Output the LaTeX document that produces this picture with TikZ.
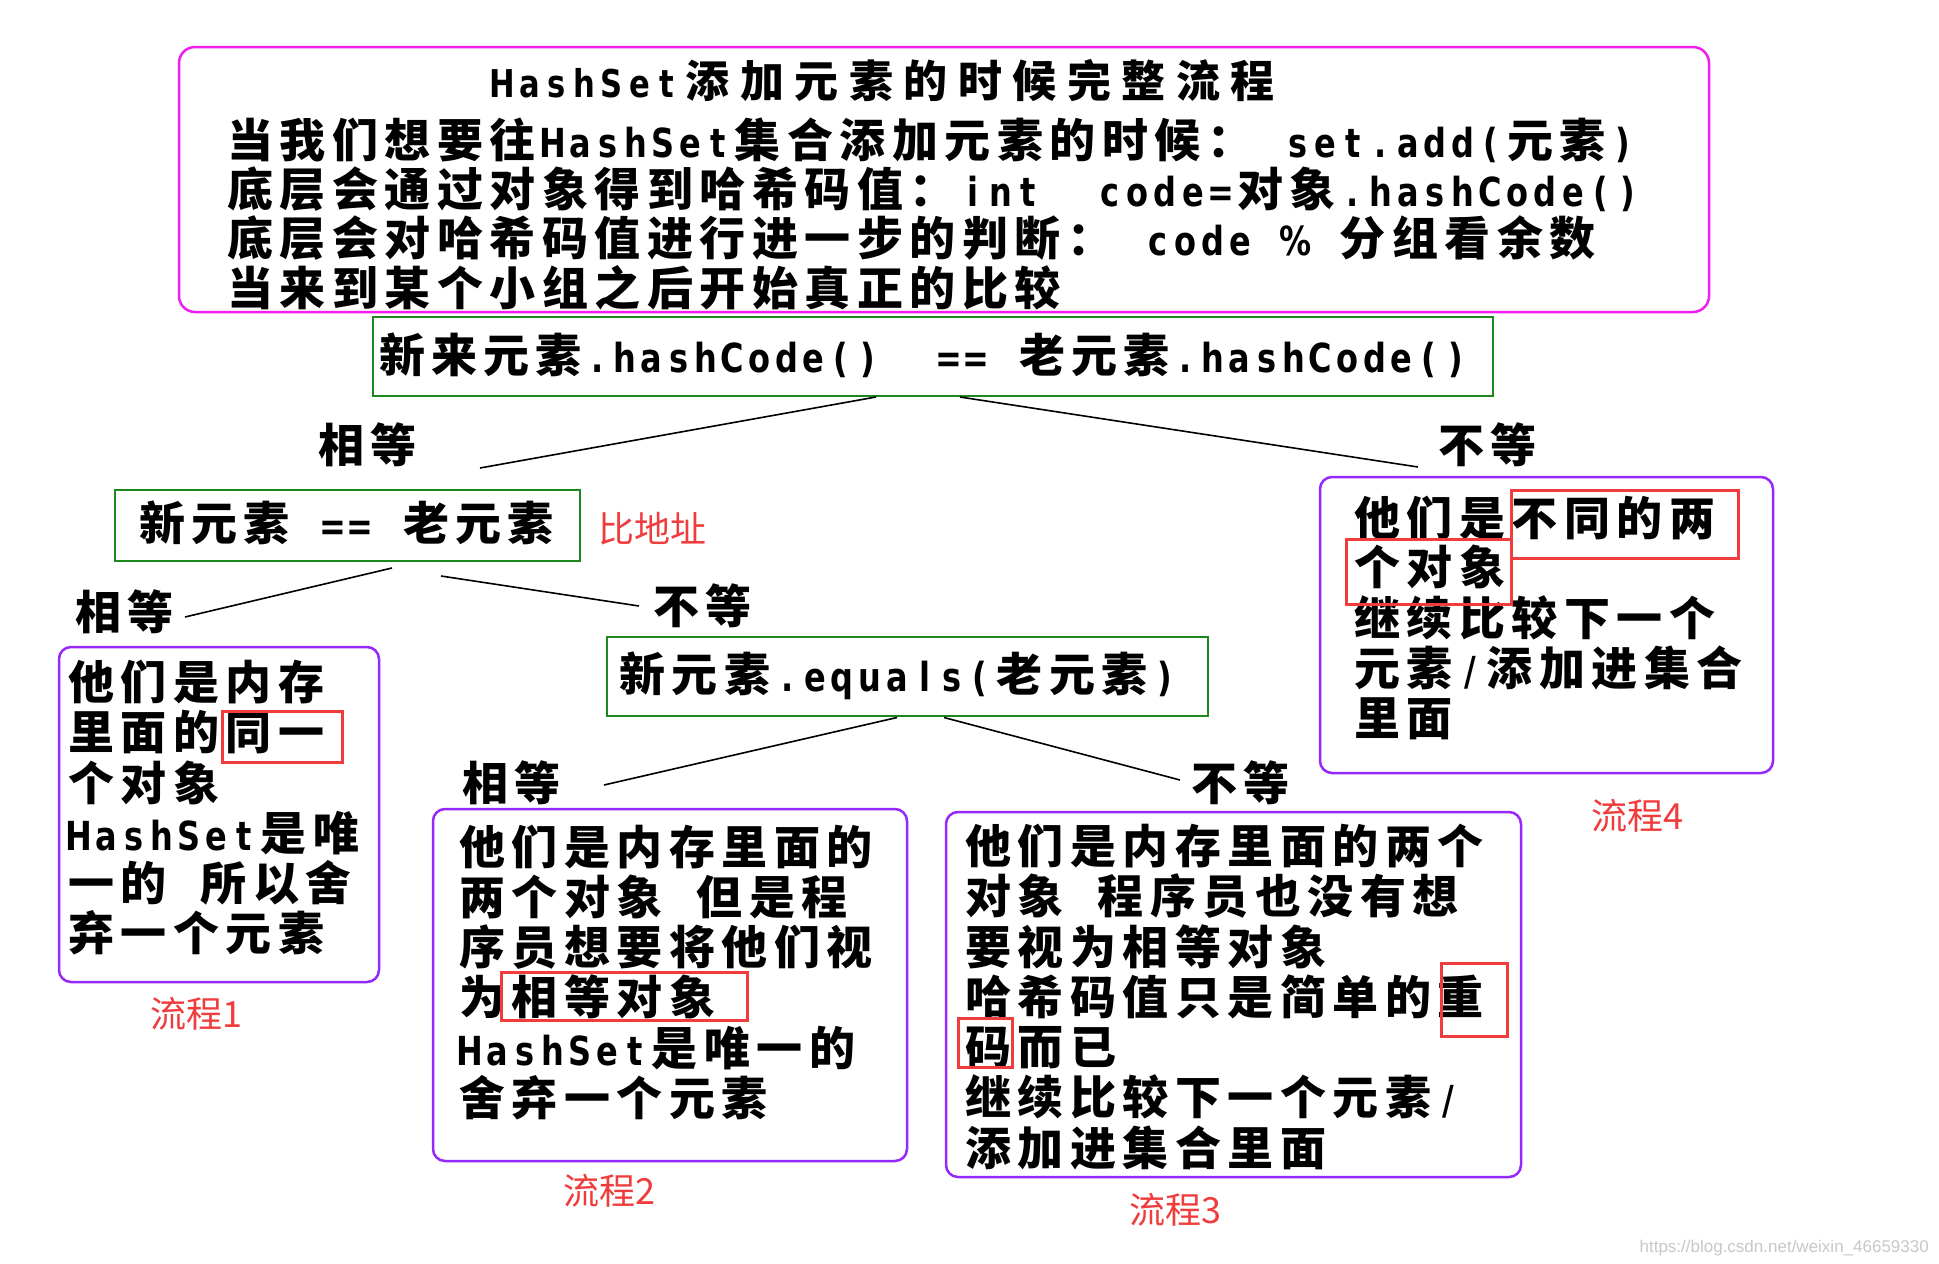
\documentclass[tikz,border=0pt]{standalone}
\usepackage{fontspec}
\usepackage{graphicx}
\usetikzlibrary{calc}
\newfontfamily\cjk{Noto Sans CJK SC}
\newfontfamily\latsans{Liberation Sans}
\newfontfamily\latbold{DejaVu Sans}[Scale=0.87]
\newlength\cjkw \setlength\cjkw{52.5pt}
\newlength\latw \setlength\latw{27.5pt}
\def\cjkstyle{\cjk\bfseries}
\def\latstyle{\latbold\bfseries}
\def\cellsEnd{\relax}
\newcommand\cells[1]{\cellsA#1\cellsEnd}
\def\cellsA#1{\ifx#1\cellsEnd\else\cellsB{#1}\expandafter\cellsA\fi}
\def\cellsB#1{\ifnum`#1>255 \makebox[\cjkw][c]{\cjkstyle #1}\else\makebox[\latw][c]{\scalebox{0.8}[1]{\latstyle #1}}\fi}
\definecolor{mcol}{RGB}{240,30,240}
\definecolor{gcol}{RGB}{30,135,30}
\definecolor{pcol}{RGB}{150,40,250}
\definecolor{rcol}{RGB}{240,60,60}
\definecolor{wcol}{RGB}{200,200,200}
\begin{document}
\begin{tikzpicture}[x=1pt,y=-1pt,
  txt/.style={anchor=base west,inner sep=0pt,font=\cjk\bfseries\fontsize{46pt}{50pt}\selectfont},
  redlbl/.style={anchor=base west,inner sep=0pt,text=rcol,font=\cjk\fontsize{36pt}{40pt}\selectfont},
  gbox/.style={draw=gcol,line width=2pt,inner sep=0pt},
  pbox/.style={draw=pcol,line width=2.5pt,rounded corners=12pt,inner sep=0pt},
  mbox/.style={draw=mcol,line width=2.5pt,rounded corners=16pt,inner sep=0pt},
  rbox/.style={draw=rcol,line width=3pt,inner sep=0pt},
  conn/.style={draw=black,line width=1.6pt}]
\fill[white] (0,0) rectangle (1939,1264);
\useasboundingbox (0,0) rectangle (1939,1264);

% top box
\node[mbox,minimum width=1530pt,minimum height=265pt] (tb) at (944,179.5) {};
\node[txt,font=\cjk\bfseries\fontsize{44pt}{48pt}\selectfont] (title) at (488,97) {\setlength\cjkw{54.5pt}\cells{HashSet添加元素的时候完整流程}};
\node[txt] (l1) at (224,157) {\cells{当我们想要往HashSet集合添加元素的时候：~set.add(元素)}};
\node[txt] (l2) at (224,206) {\cells{底层会通过对象得到哈希码值：int~~code=对象.hashCode()}};
\node[txt] (l3) at (224,255) {\cells{底层会对哈希码值进行进一步的判断：~code~\%~分组看余数}};
\node[txt] (l4) at (224,305) {\cells{当来到某个小组之后开始真正的比较}};

% hashCode box
\node[gbox,minimum width=1120pt,minimum height=79pt] (hc) at (933,356.5) {};
\node[txt] (hct) at (376,372) {\setlength\cjkw{52pt}\setlength\latw{27pt}\cells{新来元素.hashCode()~~==~老元素.hashCode()}};

\node[txt] (lab1) at (315,462) {\cells{相等}};
\node[txt] (lab2) at (1435,462) {\cells{不等}};
\coordinate (cA) at (480,468);
\coordinate (cB) at (1418,467);
\draw[conn] ($(hc.south)+(-57,0)$) -- (cA);
\draw[conn] ($(hc.south)+(27,0)$) -- (cB);

% == box
\node[gbox,minimum width=465pt,minimum height=71pt] (eq1) at (347.5,525.5) {};
\node[txt] (eq1t) at (136,540) {\setlength\cjkw{52pt}\setlength\latw{27pt}\cells{新元素~==~老元素}};
\node[redlbl] (addr) at (598,542) {比地址};
\node[txt] (lab3) at (72,629) {\cells{相等}};
\node[txt] (lab4) at (650,623) {\cells{不等}};
\coordinate (cC) at (185,617);
\coordinate (cD) at (639,606);
\draw[conn] ($(eq1.south)+(44.5,6)$) -- (cC);
\draw[conn] ($(eq1.south)+(93.5,14)$) -- (cD);

% equals box
\node[gbox,minimum width=601pt,minimum height=79pt] (eq) at (907.5,676.5) {};
\node[txt] (eqt) at (616,691) {\cells{新元素.equals(老元素)}};
\node[txt] (lab5) at (459,800) {\cells{相等}};
\node[txt] (lab6) at (1188,800) {\cells{不等}};
\coordinate (cE) at (604,785);
\coordinate (cF) at (1180,780);
\draw[conn] ($(eq.south)+(-10.5,0.5)$) -- (cE);
\draw[conn] ($(eq.south)+(36.5,0.5)$) -- (cF);

% flow 1
\node[pbox,minimum width=320pt,minimum height=335pt] (p1) at (219,814.5) {};
\node[txt] (p1a) at (65,699) {\cells{他们是内存}};
\node[txt] (p1b) at (65,749) {\cells{里面的同一}};
\node[txt] (p1c) at (65,800) {\cells{个对象}};
\node[txt] (p1d) at (65,850) {\cells{HashSet是唯}};
\node[txt] (p1e) at (65,900) {\cells{一的~所以舍}};
\node[txt] (p1f) at (65,950) {\cells{弃一个元素}};
\node[rbox,minimum width=120pt,minimum height=51pt] (r1) at (282,736.5) {};
\node[redlbl] (f1) at (150,1027) {流程1};

% flow 2
\node[pbox,minimum width=474pt,minimum height=352pt] (p2) at (670,985) {};
\node[txt] (p2a) at (456,864) {\cells{他们是内存里面的}};
\node[txt] (p2b) at (456,914) {\cells{两个对象~但是程}};
\node[txt] (p2c) at (456,964) {\cells{序员想要将他们视}};
\node[txt] (p2d) at (456,1014) {\cells{为相等对象}};
\node[txt] (p2e) at (456,1065) {\cells{HashSet是唯一的}};
\node[txt] (p2f) at (456,1115) {\cells{舍弃一个元素}};
\node[rbox,minimum width=246pt,minimum height=48pt] (r2) at (624,996) {};
\node[redlbl] (f2) at (563,1204) {流程2};

% flow 3
\node[pbox,minimum width=575pt,minimum height=365pt] (p3) at (1233.5,994.5) {};
\node[txt] (p3a) at (962,863) {\cells{他们是内存里面的两个}};
\node[txt] (p3b) at (962,913) {\cells{对象~程序员也没有想}};
\node[txt] (p3c) at (962,964) {\cells{要视为相等对象}};
\node[txt] (p3d) at (962,1014) {\cells{哈希码值只是简单的重}};
\node[txt] (p3e) at (962,1064) {\cells{码而已}};
\node[txt] (p3f) at (962,1114) {\cells{继续比较下一个元素/}};
\node[txt] (p3g) at (962,1165) {\cells{添加进集合里面}};
\node[rbox,minimum width=66pt,minimum height=73pt] (r3) at (1474,999.5) {};
\node[rbox,minimum width=54pt,minimum height=49pt] (r4) at (985,1042.5) {};
\node[redlbl] (f3) at (1129,1223) {流程3};

% flow 4
\node[pbox,minimum width=453pt,minimum height=296pt] (p4) at (1546.5,625) {};
\node[txt] (p4a) at (1351,535) {\cells{他们是不同的两}};
\node[txt] (p4b) at (1351,584) {\cells{个对象}};
\node[txt] (p4c) at (1351,635) {\cells{继续比较下一个}};
\node[txt] (p4d) at (1351,685) {\cells{元素/添加进集合}};
\node[txt] (p4e) at (1351,735) {\cells{里面}};
\node[rbox,minimum width=227pt,minimum height=68pt] (r5) at (1624.5,524) {};
\node[rbox,minimum width=165pt,minimum height=65pt] (r6) at (1428.5,571.5) {};
\node[redlbl] (f4) at (1591,829) {流程4};

% watermark
\node[anchor=base east,inner sep=0pt,text=wcol,font=\latsans\fontsize{17pt}{19pt}\selectfont] (wm) at (1929,1252) {https://blog.csdn.net/weixin\_46659330};
\end{tikzpicture}
\end{document}
